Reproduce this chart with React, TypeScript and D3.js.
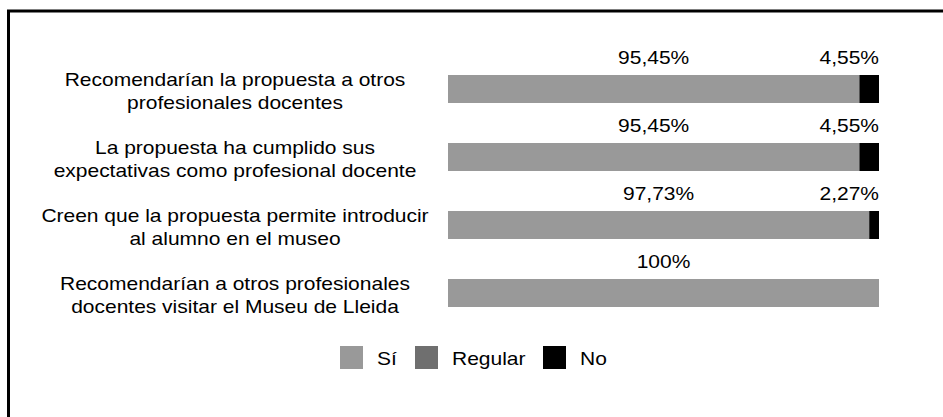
import React from "react";
import * as d3 from "d3";

const categories: string[][] = [
  ["Recomendarían la propuesta a otros", "profesionales docentes"],
  ["La propuesta ha cumplido sus", "expectativas como profesional docente"],
  ["Creen que la propuesta permite introducir", "al alumno en el museo"],
  ["Recomendarían a otros profesionales", "docentes visitar el Museu de Lleida"],
];
const seriesNames = ["Sí", "Regular", "No"];
const siValues = [95.45, 95.45, 97.73, 100];
const regularValues = [0, 0, 0, 0];
const noValues = [4.55, 4.55, 2.27, 0];
const colors = ["#999999", "#6f6f6f", "#000000"];

const W = 943;
const H = 417;
const FONT = "'Liberation Sans', Arial, Helvetica, sans-serif";
const FS = 17.5;
const SX = 1.2;

function fmt(v: number): string {
  if (v === 100) return "100%";
  return v.toFixed(2).replace(".", ",") + "%";
}

export default function App() {
  const x = d3.scaleLinear().domain([0, 100]).range([448, 879]);
  const idx = categories.map((_, i) => i);
  const y = d3
    .scaleBand<number>()
    .domain(idx)
    .range([55, 327])
    .paddingInner(40 / 68)
    .paddingOuter(20 / 68);
  const rows = idx.map((i) => ({ si: siValues[i], regular: regularValues[i], no: noValues[i] }));
  const stack = d3.stack<any>().keys(["si", "regular", "no"])(rows);
  const bw = y.bandwidth();

  const legendX = [340, 415, 543];
  return (
    <svg width={W} height={H} style={{ position: "absolute", left: 0, top: 0, background: "#fff" }} fontFamily={FONT}>
      <rect x={8.5} y={11} width={W + 20} height={H + 20} fill="#fff" stroke="#000" strokeWidth={3} />
      {stack.map((s, si) =>
        s.map((d, i) => {
          const w = x(d[1]) - x(d[0]);
          if (w <= 0) return null;
          return <rect key={si + "-" + i} x={x(d[0])} y={y(i)!} width={w} height={bw} fill={colors[si]} />;
        })
      )}
      {stack.map((s, si) =>
        s.map((d, i) => {
          const v = d[1] - d[0];
          if (v <= 0) return null;
          const small = v < 20;
          const tx = small ? x(100) : (x(d[0]) + x(d[1])) / 2;
          return (
            <text
              key={"l" + si + "-" + i}
              transform={`translate(${tx},${y(i)! - 11}) scale(${SX},1)`}
              fontSize={FS}
              textAnchor={small ? "end" : "middle"}
              fill="#000"
            >
              {fmt(v)}
            </text>
          );
        })
      )}
      {categories.map((lines, i) => (
        <text
          key={"c" + i}
          transform={`translate(235,${y(i)! + bw / 2 - 3.5}) scale(${SX},1)`}
          fontSize={FS}
          textAnchor="middle"
          fill="#000"
        >
          {lines.map((ln, j) => (
            <tspan key={j} x={0} dy={j === 0 ? 0 : 23.5}>
              {ln}
            </tspan>
          ))}
        </text>
      ))}
      {seriesNames.map((n, i) => (
        <g key={"lg" + i}>
          <rect x={legendX[i]} y={346} width={23} height={23} fill={colors[i]} />
          <text transform={`translate(${legendX[i] + 37},365) scale(${SX},1)`} fontSize={FS} fill="#000">
            {n}
          </text>
        </g>
      ))}
    </svg>
  );
}
